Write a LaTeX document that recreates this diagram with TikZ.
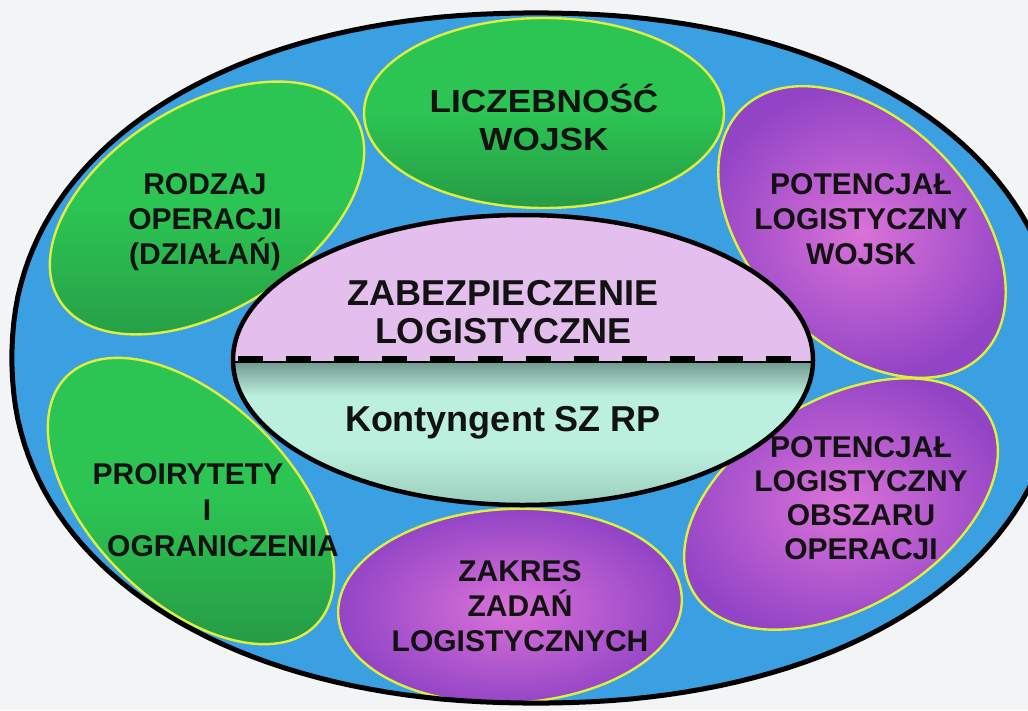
\documentclass[tikz,border=0pt]{standalone}
\usepackage{fontspec}
\newfontfamily\lab{Liberation Sans}
\definecolor{bg}{RGB}{243,244,245}
\definecolor{ringblue}{RGB}{58,160,226}
\definecolor{gtop}{RGB}{44,196,82}
\definecolor{gbot}{RGB}{38,156,70}
\definecolor{pin}{RGB}{218,114,216}
\definecolor{pout}{RGB}{146,68,198}
\definecolor{lav}{RGB}{228,190,236}
\definecolor{mintA}{RGB}{112,152,142}
\definecolor{mintB}{RGB}{188,240,222}
\definecolor{mintC}{RGB}{152,202,186}
\definecolor{rimy}{RGB}{222,240,60}
\definecolor{ink}{RGB}{18,18,18}
\begin{document}
\begin{tikzpicture}[x=1pt,y=-1pt,
  greenov/.style={draw=rimy, line width=2.4pt, top color=gtop, bottom color=gbot, middle color=gtop},
  purpov/.style={draw=rimy, line width=2.4pt, inner color=pin, outer color=pout},
  lbl/.style={font=\lab\bfseries\fontsize{30}{35}\selectfont, align=center, text=ink, inner sep=0pt},
  big/.style={font=\lab\bfseries\fontsize{36}{38}\selectfont, align=center, text=ink, inner sep=0pt}]
\def\outershape{plot[domain=1:361, samples=181] ({536+524*sign(cos(\x))*abs(cos(\x))^(0.93)}, {358+345*sign(sin(\x))*abs(sin(\x))^(0.93)}) -- cycle}
\useasboundingbox (0,0) rectangle (1028,710);
\fill[bg] (0,0) rectangle (1028,710);
\begin{scope}
  \clip (0,0) rectangle (1028,710);
  \fill[ringblue] \outershape;
  % green ovals
  \path[greenov] (544,113) ellipse [x radius=180, y radius=95];
  \path[greenov, rotate around={32:(207,208)}] (207,208) ellipse [x radius=174, y radius=102];
  \path[greenov, rotate around={-45:(191,501)}] (191,501) ellipse [x radius=176, y radius=100];
  % purple ovals
  \path[purpov, rotate around={-46:(862,232)}] (862,232) ellipse [x radius=172, y radius=111];
  \path[purpov, rotate around={31:(841,504)}] (841,504) ellipse [x radius=172, y radius=104];
  \path[purpov, rotate around={3:(510,606)}] (510,606) ellipse [x radius=172, y radius=97];
  % outer outline
  \draw[line width=5pt, line join=round] \outershape;
\end{scope}
% central oval
\begin{scope}
  \clip (523,360) ellipse [x radius=290, y radius=145];
  \fill[lav] (230,210) rectangle (816,361);
  \shade[top color=mintA, bottom color=mintB] (230,361) rectangle (816,396);
  \fill[mintB] (230,395.5) rectangle (816,450.5);
  \shade[top color=mintB, bottom color=mintC] (230,450) rectangle (816,510);
  \draw[line width=2pt] (230,362) -- (816,362);
  \draw[line width=5pt, dash pattern=on 25pt off 23pt] (238,358) -- (816,358);
\end{scope}
\draw[line width=4.5pt] (523,360) ellipse [x radius=290, y radius=145];
% labels
\node[lbl, font=\lab\bfseries\fontsize{32}{38}\selectfont, xscale=1.1] (liczebnosc) at (544,117) {LICZEBNOŚĆ\\WOJSK};
\node[lbl] (rodzaj) at (205,222) {RODZAJ\\OPERACJI\\(DZIAŁAŃ)};
\node[lbl] (potwojsk) at (861,219) {POTENCJAŁ\\LOGISTYCZNY\\WOJSK};
\node[big] (zabezp) at (503,312) {ZABEZPIECZENIE\\LOGISTYCZNE};
\node[big, anchor=base] (kontyngent) at (503,431) {Kontyngent SZ RP};
\node[lbl] (proir1) at (188,474) {PROIRYTETY};
\node[lbl] (proir2) at (207,510) {I};
\node[lbl] (proir3) at (223,546) {OGRANICZENIA};
\node[lbl] (zakres) at (520,606) {ZAKRES\\ZADAŃ\\LOGISTYCZNYCH};
\node[lbl, font=\lab\bfseries\fontsize{30}{34}\selectfont] (potobsz) at (861,498) {POTENCJAŁ\\LOGISTYCZNY\\OBSZARU\\OPERACJI};
\end{tikzpicture}
\end{document}
